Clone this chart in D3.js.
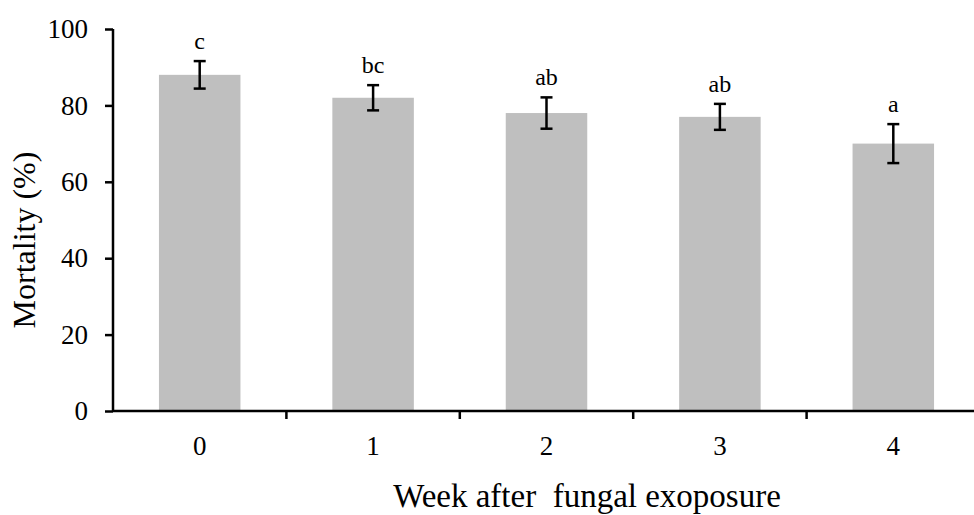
<!DOCTYPE html>
<html>
<head>
<meta charset="utf-8">
<style>
  body { margin: 0; background: #fff; }
  svg { display: block; }
  text { font-family: "Liberation Serif", "Times New Roman", serif; fill: #000; }
</style>
<script src="https://cdn.jsdelivr.net/npm/d3@7"></script>
</head>
<body>
<div id="chart"></div>
<script>
  // data
  var weeks = ["0", "1", "2", "3", "4"];
  var mortality = [88, 82, 78, 77, 70];
  var errors = [3.6, 3.3, 4.1, 3.4, 5.1];
  var letters = ["c", "bc", "ab", "ab", "a"];
  var yTicks = [0, 20, 40, 60, 80, 100];

  var width = 974, height = 515;

  var svg = d3.select("#chart").append("svg")
      .attr("width", width)
      .attr("height", height);

  var x = d3.scaleBand()
      .domain(weeks)
      .range([113, 980])
      .paddingInner(0.53)
      .paddingOuter(0.265);

  var y = d3.scaleLinear()
      .domain([0, 100])
      .range([411, 29]);

  var data = weeks.map(function (w, i) {
    return { week: w, value: mortality[i], err: errors[i], label: letters[i] };
  });

  // bars
  svg.selectAll(".bar")
      .data(data)
      .enter().append("rect")
      .attr("class", "bar")
      .attr("x", function (d) { return x(d.week); })
      .attr("width", x.bandwidth())
      .attr("y", function (d) { return y(d.value); })
      .attr("height", function (d) { return y(0) - y(d.value); })
      .style("fill", "#bfbfbf");

  // error bars
  var eb = svg.selectAll(".err")
      .data(data)
      .enter().append("g")
      .attr("class", "err")
      .attr("stroke", "#000")
      .attr("stroke-width", 2.5);
  var cx = function (d) { return x(d.week) + x.bandwidth() / 2; };
  eb.append("line")
      .attr("x1", cx).attr("x2", cx)
      .attr("y1", function (d) { return y(d.value + d.err); })
      .attr("y2", function (d) { return y(d.value - d.err); });
  eb.append("line")
      .attr("x1", function (d) { return cx(d) - 6; })
      .attr("x2", function (d) { return cx(d) + 6; })
      .attr("y1", function (d) { return y(d.value + d.err); })
      .attr("y2", function (d) { return y(d.value + d.err); });
  eb.append("line")
      .attr("x1", function (d) { return cx(d) - 6; })
      .attr("x2", function (d) { return cx(d) + 6; })
      .attr("y1", function (d) { return y(d.value - d.err); })
      .attr("y2", function (d) { return y(d.value - d.err); });

  // significance letters
  svg.selectAll(".letter")
      .data(data)
      .enter().append("text")
      .attr("class", "letter")
      .attr("x", cx)
      .attr("y", function (d) { return y(d.value + d.err) - 12; })
      .attr("text-anchor", "middle")
      .style("font-size", "24px")
      .text(function (d) { return d.label; });

  // y axis
  var yAxis = svg.append("g")
      .attr("transform", "translate(113,0)")
      .call(d3.axisLeft(y).tickValues(yTicks).tickSize(8).tickPadding(17));
  yAxis.attr("font-family", null).attr("font-size", null);
  yAxis.select(".domain").attr("stroke", "#000").attr("stroke-width", 2.5)
      .attr("d", "M0," + y(100) + "V" + y(0));
  yAxis.selectAll(".tick line").attr("stroke", "#000").attr("stroke-width", 2.5);
  yAxis.selectAll(".tick text")
      .style("font-size", "27px");

  // x axis: ticks between categories
  var xAxis = svg.append("g")
      .attr("transform", "translate(0," + y(0) + ")");
  xAxis.append("line")
      .attr("x1", 113).attr("x2", 980)
      .attr("stroke", "#000").attr("stroke-width", 2.5);
  xAxis.selectAll(".xt")
      .data(weeks)
      .enter().append("line")
      .attr("class", "xt")
      .attr("x1", function (d) { return x(d) - x.step() * x.paddingInner() / 2 + x.step(); })
      .attr("x2", function (d) { return x(d) - x.step() * x.paddingInner() / 2 + x.step(); })
      .attr("y1", 0).attr("y2", 8)
      .attr("stroke", "#000").attr("stroke-width", 2.5);
  xAxis.selectAll(".xl")
      .data(weeks)
      .enter().append("text")
      .attr("class", "xl")
      .attr("x", function (d) { return x(d) + x.bandwidth() / 2; })
      .attr("y", 44)
      .attr("text-anchor", "middle")
      .style("font-size", "27px")
      .text(function (d) { return d; });

  // axis titles
  svg.append("text")
      .attr("x", 587)
      .attr("y", 507)
      .attr("text-anchor", "middle")
      .style("font-size", "33px")
      .style("white-space", "pre")
      .text("Week after  fungal exoposure");

  svg.append("text")
      .attr("transform", "translate(35,240) rotate(-90)")
      .attr("text-anchor", "middle")
      .style("font-size", "32px")
      .text("Mortality (%)");
</script>
</body>
</html>
